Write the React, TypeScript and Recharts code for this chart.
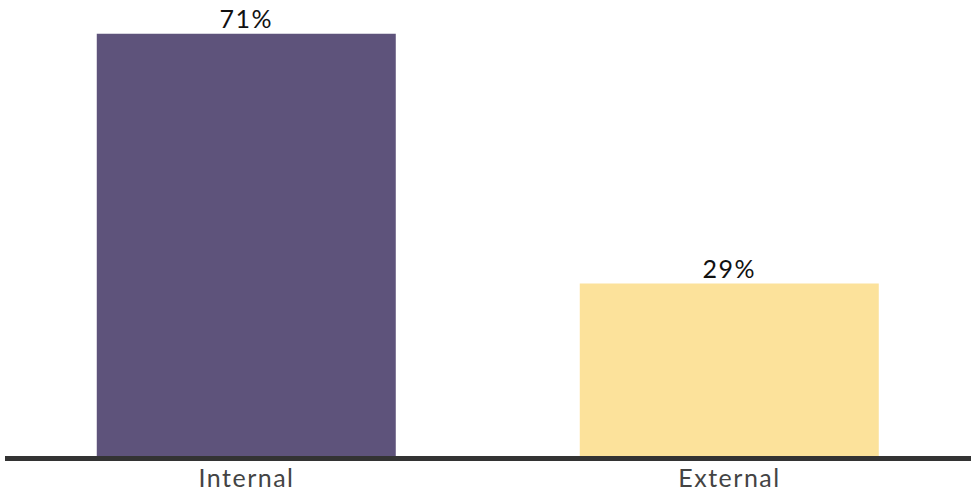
import { BarChart, Bar, XAxis, YAxis, Cell, LabelList } from 'recharts';

const categories = ['Internal', 'External'];
const shares = [71, 29];
const colors = ['#5e537b', '#fce29b'];

const data = categories.map((name, i) => ({ name, value: shares[i] }));

export default function App() {
  return (
    <div style={{ position: 'absolute', left: 0, top: 0, width: 973, height: 495, background: '#fff' }}>
      <BarChart
        width={973}
        height={495}
        data={data}
        margin={{ top: 10, right: 2, bottom: 0, left: 5 }}
        barCategoryGap="19%"
        style={{ fontFamily: 'Lato, sans-serif' }}
      >
        <YAxis hide domain={[0, 75]} />
        <XAxis
          dataKey="name"
          height={39}
          tickLine={false}
          axisLine={{ stroke: '#333', strokeWidth: 5, transform: 'translate(0,2.5)' }}
          tick={{ fill: '#444', fontSize: 25, letterSpacing: 1.5 }}
          tickMargin={7}
        />
        <Bar dataKey="value" isAnimationActive={false}>
          {data.map((d, i) => (
            <Cell key={d.name} fill={colors[i]} />
          ))}
          <LabelList
            dataKey="value"
            position="top"
            offset={6}
            formatter={(v: number) => `${v}%`}
            style={{ fill: '#111', fontSize: 25, letterSpacing: 1.5 }}
          />
        </Bar>
      </BarChart>
    </div>
  );
}
